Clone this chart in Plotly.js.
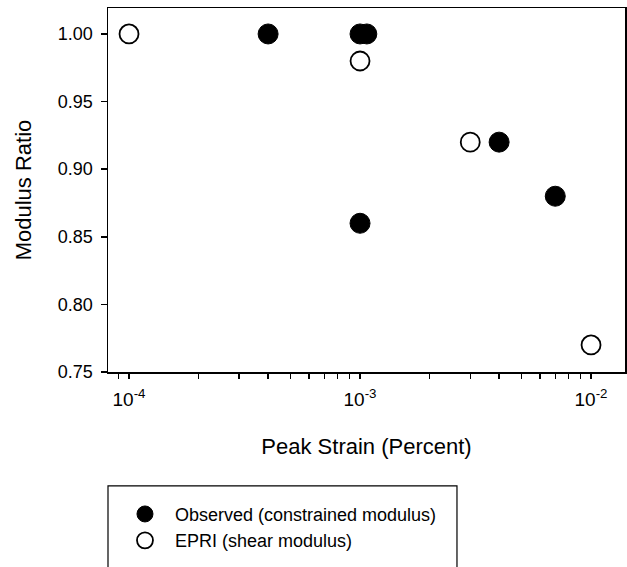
<!DOCTYPE html>
<html>
<head>
<meta charset="utf-8">
<script src="https://cdn.plot.ly/plotly-3.0.1.min.js"></script>
<style>html,body{margin:0;padding:0;background:#fff;}#chart{width:627px;height:567px;}</style>
</head>
<body>
<div id="chart"></div>
<script>
// Observed (constrained modulus)
var observedStrain = [4e-4, 1.0e-3, 1.07e-3, 1.0e-3, 4e-3, 7e-3];
var observedRatio  = [1.00, 1.00, 1.00, 0.86, 0.92, 0.88];
// EPRI (shear modulus)
var epriStrain = [1e-4, 1e-3, 3e-3, 1e-2];
var epriRatio  = [1.00, 0.98, 0.92, 0.77];

var seriesNames = ['Observed (constrained modulus)', 'EPRI (shear modulus)'];
var decadeTicks = [1e-4, 1e-3, 1e-2];
var decadeLabels = ['10<sup>-4</sup>', '10<sup>-3</sup>', '10<sup>-2</sup>'];
var yTicks = [0.75, 0.80, 0.85, 0.90, 0.95, 1.00];

// minor log tick positions (2..9 per decade)
var minorVals = [];
[-5, -4, -3, -2].forEach(function (e) {
  for (var m = 2; m <= 9; m++) minorVals.push(m * Math.pow(10, e));
});

var font = {family: 'Liberation Sans, Arial, Helvetica, sans-serif', color: '#000'};

var traces = [
  {
    x: observedStrain, y: observedRatio, type: 'scatter', mode: 'markers',
    name: seriesNames[0],
    marker: {size: 20, color: '#000', line: {color: '#000', width: 1}}
  },
  {
    x: epriStrain, y: epriRatio, type: 'scatter', mode: 'markers',
    name: seriesNames[1],
    marker: {size: 19, color: '#fff', line: {color: '#000', width: 1.8}}
  }
];

var layout = {
  width: 627, height: 567,
  margin: {l: 108, r: 2, t: 8, b: 195},
  paper_bgcolor: '#fff', plot_bgcolor: '#fff',
  font: Object.assign({size: 17}, font),
  showlegend: true,
  legend: {
    x: 0.0135, xanchor: 'left', y: -0.340, yanchor: 'top',
    font: Object.assign({size: 18}, font),
    bgcolor: 'rgba(0,0,0,0)', borderwidth: 0,
    itemwidth: 50, tracegroupgap: 6
  },
  shapes: [{
    type: 'rect', xref: 'paper', yref: 'paper',
    x0: 0, x1: 0.675, y0: -0.313, y1: -0.62,
    line: {color: '#000', width: 1.2}, fillcolor: 'rgba(0,0,0,0)'
  }],
  xaxis: {
    type: 'log',
    range: [-4.091, -1.853],
    tickmode: 'array', tickvals: decadeTicks, ticktext: decadeLabels,
    ticks: 'outside', ticklen: 5, tickwidth: 1.5, tickcolor: '#000',
    ticklabelstandoff: 5,
    minor: {tickmode: 'array', tickvals: minorVals, ticks: 'outside', ticklen: 5, tickwidth: 1.5, tickcolor: '#000', showgrid: false},
    showline: true, linecolor: '#000', linewidth: 1.5, mirror: true,
    showgrid: false, zeroline: false,
    tickfont: Object.assign({size: 19}, font),
    title: {text: 'Peak Strain (Percent)', font: Object.assign({size: 22}, font), standoff: 29}
  },
  yaxis: {
    range: [0.75, 1.0192],
    tickvals: yTicks, tickformat: '.2f',
    ticks: 'outside', ticklen: 6, tickwidth: 1.5, tickcolor: '#000',
    ticklabelstandoff: 4,
    showline: true, linecolor: '#000', linewidth: 1.5, mirror: true,
    showgrid: false, zeroline: false,
    tickfont: Object.assign({size: 18}, font),
    title: {text: 'Modulus Ratio', font: Object.assign({size: 22}, font), standoff: 20}
  }
};

Plotly.newPlot('chart', traces, layout, {displayModeBar: false, staticPlot: true});
</script>
</body>
</html>
